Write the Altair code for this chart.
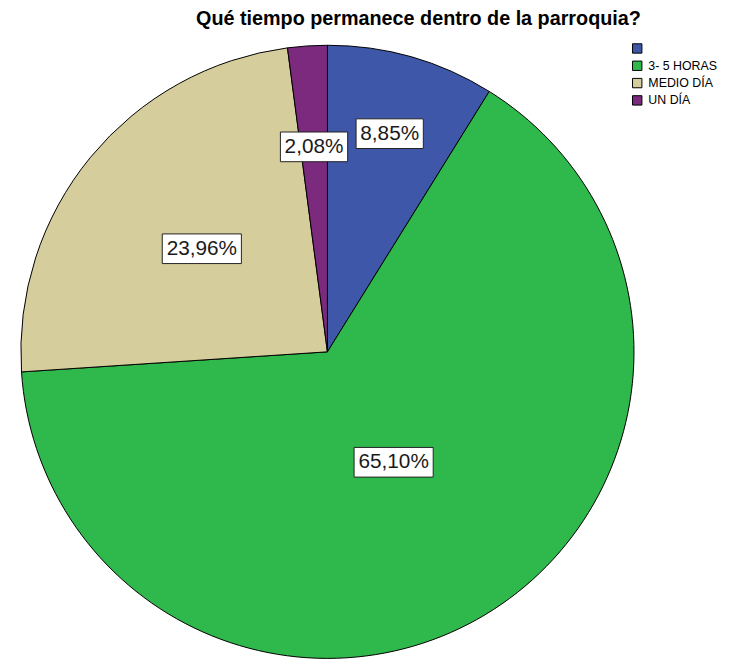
import altair as alt
import pandas as pd

# ---- data ----
categories = ["", "3- 5 HORAS", "MEDIO DÍA", "UN DÍA"]
percentages = [8.85, 65.10, 23.96, 2.08]
labels = ["8,85%", "65,10%", "23,96%", "2,08%"]
slice_order = [0, 1, 2, 3]

# ---- styling / layout ----
colors = ["#3e57a9", "#2fb84b", "#d5cd9b", "#7b2a7e"]
label_radius_frac = [0.74, 0.42, 0.53, 0.67]   # where each label sits along its slice's mid-ray
CX, CY, R = 323, 344, 310

df = pd.DataFrame({
    "cat": categories,
    "pct": percentages,
    "label": labels,
    "idx": slice_order,
    "lr": label_radius_frac,
})

base = alt.Chart(df)

pie = base.mark_arc(stroke="black", strokeWidth=1, radius=R).encode(
    theta=alt.Theta("pct:Q", stack=True),
    order=alt.Order("idx:Q"),
    color=alt.Color(
        "cat:N",
        scale=alt.Scale(domain=categories, range=colors),
        sort=categories,
        legend=alt.Legend(
            title=None,
            orient="none",
            legendX=630,
            legendY=31,
            symbolType="square",
            symbolSize=90,
            symbolStrokeColor="black",
            symbolStrokeWidth=1,
            symbolOpacity=1,
            labelFont="Liberation Sans",
            labelFontSize=12.5,
            labelColor="black",
            labelOffset=5,
            rowPadding=3.5,
            padding=0,
        ),
    ),
    x=alt.value(CX),
    y=alt.value(CY),
)

pos = (
    base.transform_joinaggregate(total="sum(pct)")
    .transform_window(cum="sum(pct)", sort=[alt.SortField("idx")], frame=[None, 0])
    .transform_calculate(
        ang="(datum.cum - datum.pct/2) / datum.total * 2 * PI",
    )
    .transform_calculate(
        px=f"{CX} + datum.lr*{R}*sin(datum.ang)",
        py=f"{CY} - datum.lr*{R}*cos(datum.ang)",
        bw="length(datum.label)*12 + 8",
    )
    .transform_calculate(
        x0="datum.px - datum.bw/2",
        x1="datum.px + datum.bw/2",
        y0="datum.py - 15",
        y1="datum.py + 15",
    )
)

boxes = pos.mark_rect(fill="white", stroke="#222222", strokeWidth=1).encode(
    x=alt.X("x0:Q", scale=None),
    x2="x1:Q",
    y=alt.Y("y0:Q", scale=None),
    y2="y1:Q",
)

texts = pos.mark_text(
    font="Liberation Sans", fontSize=21, color="#1a1a1a", baseline="middle", align="center"
).encode(
    x=alt.X("px:Q", scale=None),
    y=alt.Y("py:Q", scale=None),
    text="label:N",
)

chart = (
    alt.layer(pie, boxes, texts)
    .properties(
        width=724,
        height=657,
        padding=0,
        autosize=alt.AutoSizeParams(type="none"),
        title=alt.TitleParams(
            "Qué tiempo permanece dentro de la parroquia?",
            font="Liberation Sans",
            fontSize=20,
            fontWeight="bold",
            color="black",
            anchor="middle",
            dx=53,
            dy=22,
        ),
    )
    .configure_view(stroke=None)
)

chart.save("out.html", embed_options={"renderer": "svg", "actions": False})
